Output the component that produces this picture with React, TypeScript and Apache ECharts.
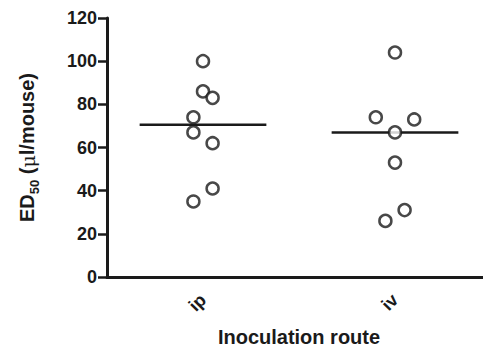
import React, { useEffect, useRef } from "react";
import * as echarts from "echarts";

const categories = ["ip", "iv"];
const ipValues = [100, 86, 83, 74, 67, 62, 41, 35];
const ipJitter = [0, 0, 0.05, -0.05, -0.05, 0.05, 0.05, -0.05];
const ivValues = [104, 74, 73, 67, 53, 31, 26];
const ivJitter = [0, -0.1, 0.1, 0, 0, 0.05, -0.05];
const yTicks = { min: 0, max: 120, interval: 20 };

function median(a: number[]) {
  const s = [...a].sort((x, y) => x - y);
  const n = s.length;
  return n % 2 ? s[(n - 1) / 2] : (s[n / 2 - 1] + s[n / 2]) / 2;
}

export default function App() {
  const ref = useRef<HTMLDivElement>(null);
  useEffect(() => {
    const chart = echarts.init(ref.current!, undefined, { renderer: "svg" });
    const groups = [
      { values: ipValues, jitter: ipJitter },
      { values: ivValues, jitter: ivJitter },
    ];
    const font = "'Liberation Sans', Arial, sans-serif";
    const ink = "#1a1a1a";
    const halfW = 0.33;
    const scatterSeries = groups.map((g, gi) => ({
      type: "scatter",
      xAxisIndex: 1,
      yAxisIndex: 0,
      symbol: "circle",
      symbolSize: 12,
      itemStyle: { color: "#fff", borderColor: ink, borderWidth: 2.5 },
      data: g.values.map((v, i) => [gi + 0.5 + g.jitter[i], v]),
      z: 3,
    }));
    const medianSeries = groups.map((g, gi) => {
      const m = median(g.values);
      return {
        type: "line",
        xAxisIndex: 1,
        yAxisIndex: 0,
        symbol: "none",
        lineStyle: { color: ink, width: 2.5 },
        data: [
          [gi + 0.5 - halfW, m],
          [gi + 0.5 + halfW, m],
        ],
        z: 2,
      };
    });
    chart.setOption({
      animation: false,
      grid: { left: 107, right: -12, top: 18, bottom: 70, containLabel: false },
      xAxis: [
        {
          type: "category",
          data: categories,
          boundaryGap: true,
          axisLine: { lineStyle: { color: ink, width: 3 } },
          axisTick: { alignWithLabel: true, length: 9, lineStyle: { color: ink, width: 2.5 } },
          axisLabel: { rotate: 45, margin: 20, fontSize: 18, fontWeight: "bold", color: ink, fontFamily: font },
          name: "Inoculation route",
          nameLocation: "middle",
          nameGap: 50,
          nameTextStyle: { fontSize: 20, fontWeight: "bold", color: ink, fontFamily: font },
        },
        { type: "value", min: 0, max: 2, show: false },
      ],
      yAxis: [
        {
          type: "value",
          min: yTicks.min,
          max: yTicks.max,
          interval: yTicks.interval,
          splitLine: { show: false },
          axisLine: { show: true, lineStyle: { color: ink, width: 3 } },
          axisTick: { show: true, length: 9, lineStyle: { color: ink, width: 2.5 } },
          axisLabel: { margin: 10, fontSize: 18, fontWeight: "bold", color: ink, fontFamily: font },
          name: "{b|ED}{s|50}{b| (}{m|\u03bc}{b|l/mouse)}",
          nameLocation: "middle",
          nameRotate: 90,
          nameGap: 70,
          nameTextStyle: {
            fontFamily: font,
            rich: {
              b: { fontSize: 20, fontWeight: "bold", color: ink, fontFamily: font, lineHeight: 24, verticalAlign: "bottom" },
              s: { fontSize: 13, fontWeight: "bold", color: ink, fontFamily: font, lineHeight: 24, verticalAlign: "bottom", padding: [0, 0, -4, 0] },
              m: { fontSize: 19, fontWeight: "normal", color: ink, fontFamily: "'DejaVu Serif', serif", lineHeight: 24, verticalAlign: "bottom" },
            },
          },
        },
      ],
      series: [...medianSeries, ...scatterSeries],
    });
    return () => chart.dispose();
  }, []);
  return <div ref={ref} style={{ width: 491, height: 352, margin: -8 }} />;
}
